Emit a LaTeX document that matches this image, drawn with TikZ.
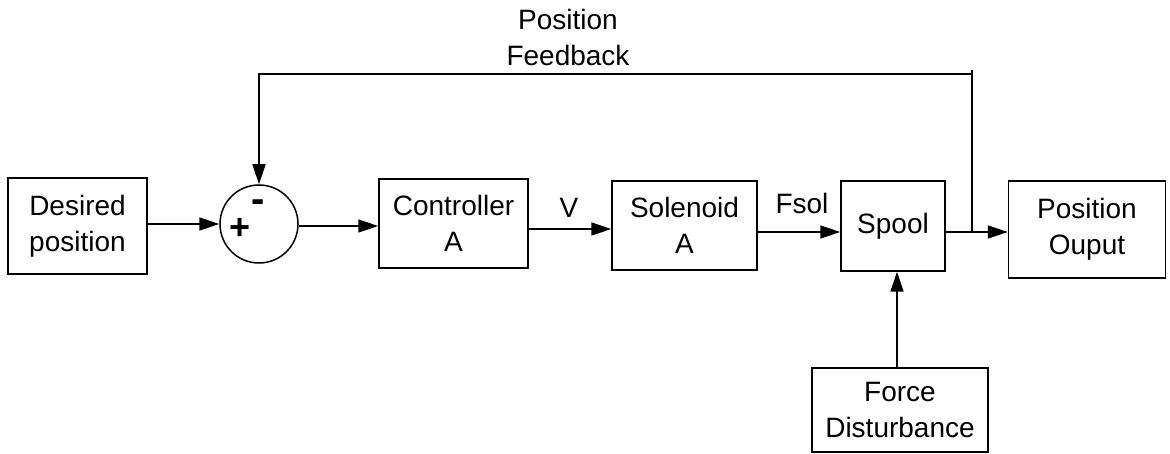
\documentclass[tikz,border=0pt]{standalone}
\usepackage{fontspec}
\setmainfont{Liberation Sans}
\usetikzlibrary{arrows.meta,calc}
\begin{document}
\begin{tikzpicture}[x=1pt,y=-1pt,
  font=\fontsize{28}{36}\selectfont,
  blockbox/.style={draw,line width=1.5pt,align=center,inner sep=0pt},
  arr/.style={line width=1.5pt,-{Triangle[length=20pt,width=13pt]}},
  wire/.style={line width=1.5pt},
  signmark/.style={font=\fontsize{36}{36}\selectfont\bfseries,inner sep=0pt}]
\useasboundingbox (0,0) rectangle (1170,454);

% blocks
\node[blockbox,minimum width=139pt,minimum height=96pt] (des) at (77.5,226) {Desired\\position};
\node[draw,circle,line width=1.5pt,minimum size=78pt,inner sep=0pt] (sum) at (259,224) {};
\node[blockbox,minimum width=149pt,minimum height=89pt] (ctrl) at (453.5,223.5) {Controller\\A};
\node[blockbox,minimum width=145pt,minimum height=89pt] (sol) at (684.5,225.5) {Solenoid\\A};
\node[blockbox,minimum width=104pt,minimum height=90pt] (spool) at (893,226) {Spool};
\node[blockbox,minimum width=157pt,minimum height=97pt] (out) at (1087,229.5) {Position\\Ouput};
\node[blockbox,minimum width=176pt,minimum height=84pt] (dist) at (900,410) {Force\\Disturbance};

% summing signs
\node[signmark,font=\fontsize{40}{40}\selectfont\bfseries] (minus) at (258,206) {-};
\node[signmark] (plus) at (240,229) {+};

% forward path
\draw[arr] (des.east |- 0,224) -- (sum.west);
\draw[arr] (sum.east |- 0,226) -- (ctrl.west |- 0,226);
\draw[arr] (ctrl.east |- 0,229) -- (sol.west |- 0,229);
\draw[arr] (sol.east |- 0,232) -- (spool.west |- 0,232);
\draw[arr] (spool.east |- 0,232) -- (out.west |- 0,232);
\draw[arr] (dist.north -| 897,0) -- (spool.south -| 897,0);

% feedback loop
\coordinate (tap) at (972,232);
\coordinate (corner) at (972,74);
\draw[wire] (tap) -- (972,70);
\draw[arr] (corner) -- (sum.north |- corner) -- (sum.north);

% signal labels
\node (vlab) at (569,208) {V};
\node (fsollab) at (802,203) {Fsol};
\node[align=center] (fblab) at (568,37) {Position\\Feedback};
\end{tikzpicture}
\end{document}
